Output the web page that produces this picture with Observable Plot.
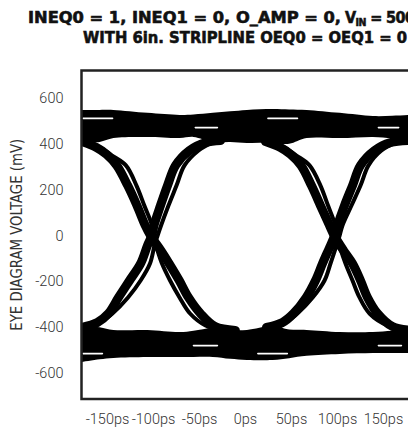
<!DOCTYPE html>
<html><head><meta charset="utf-8">
<script src="https://cdn.jsdelivr.net/npm/d3@7"></script>
<script src="https://cdn.jsdelivr.net/npm/@observablehq/plot@0.6"></script>
<style>
html,body{margin:0;padding:0;background:#fff;overflow:hidden;}
#wrap{width:420px;overflow:hidden;}
svg{display:block;}
</style></head><body><div id="wrap"></div>
<script>
// ---- text ----
const titleLine1a = "INEQ0 = 1, INEQ1 = 0, O_AMP = 0,";
const titleLine1b = ["V", "IN", " = 500mV", "P-P"];
const titleLine2 = "WITH 6in. STRIPLINE OEQ0 = OEQ1 = 0";
const yLabel = "EYE DIAGRAM VOLTAGE (mV)";
const xTicks = [-150, -100, -50, 0, 50, 100, 150];
const yTicks = [-600, -400, -200, 0, 200, 400, 600];

// ---- eye diagram: time (ps) and voltage (mV) ----
const bandT       = [-178, -158, -143, -106, -71, -56, -35, -16, 2, 30, 48, 67, 103, 139, 160, 181];
const upperTop    = [548, 548, 548, 535, 526, 528, 535, 542, 548, 552, 550, 548, 535, 521, 522, 526];
const upperBottom = [408, 408, 425, 430, 425, 430, 408, 408, 404, 404, 400, 425, 425, 430, 425, 425];
const lowerTop    = [-390, -400, -412, -412, -421, -415, -403, -412, -412, -395, -410, -412, -421, -421, -415, -412];
const lowerBottom = [-552, -540, -534, -530, -530, -530, -530, -538, -543, -543, -535, -525, -517, -513, -513, -513];

// transition traces [ps, mV]
const fallLeftMain = [[-178,412],[-162,386],[-151,356],[-140,308],[-128,220],[-118,133],[-109,46],[-103,0],[-92,-63],[-83,-120],[-72,-194],[-62,-268],[-49,-338],[-33,-395],[-11,-412]];
const fallLeftThin = [[-158,386],[-145,351],[-130,308],[-118.5,220],[-110,133],[-101.6,46],[-100,0],[-95.7,-63],[-90.8,-120],[-82,-194],[-71.7,-268],[-60.3,-338],[-43.5,-390],[-22,-412]];
const riseLeftMain = [[-178,-399],[-161,-377],[-149,-338],[-138,-268],[-126,-194],[-114,-120],[-106.5,-41],[-102,0],[-99.5,46],[-92.4,133],[-84.8,220],[-76,308],[-61,373],[-43.5,408],[-27,417]];
const riseLeftThin = [[-157.6,-377],[-144.6,-338],[-127.7,-268],[-114,-194],[-103.8,-120],[-98.9,-41],[-95.7,0],[-91.8,46],[-83.7,133],[-75,220],[-66.3,308],[-51,373],[-36,408]];
const fallRightMain = [[21.7,412],[38,386],[49,356],[60.3,308],[71.7,220],[81.5,133],[91.3,46],[96.7,0],[106.5,-63],[116.3,-120],[125,-194],[132.6,-268],[143.5,-338],[159.8,-395],[181.5,-412]];
const fallRightThin = [[42.4,386],[55.4,351],[69.6,308],[81.5,220],[89.7,133],[97.8,46],[100,0],[103.8,-63],[108.7,-120],[116.3,-194],[123.9,-268],[134.8,-338],[154.4,-390],[178.3,-412]];
const riseRightMain = [[22.8,-399],[40.2,-377],[52.2,-338],[66,-268],[76.1,-194],[83.7,-120],[92.4,-41],[96.7,0],[100,46],[107.6,133],[116.3,220],[125,308],[140.2,373],[157.6,408],[177.2,417]];
const riseRightThin = [[43.5,-377],[56.5,-338],[73,-268],[85.9,-194],[92.4,-120],[98.9,-41],[102.2,0],[105.4,46],[115.2,133],[125,220],[133.7,308],[147.8,373],[164.1,408]];

// light gaps inside the level bands
const stripeT1 = [-176, -54, 25, 145, -176, -56, 14, 145];
const stripeT2 = [-144, -30, 57, 167, -155, -30, 46, 170];
const stripeV  = [513, 473, 513, 473, -513, -478, -513, -478];

// ---- tables ----
const upperBand = bandT.map((t, i) => ({t, lo: upperBottom[i], hi: upperTop[i]}));
const lowerBand = bandT.map((t, i) => ({t, lo: lowerBottom[i], hi: lowerTop[i]}));
const toRows = (arr, id) => arr.map(([t, v]) => ({t, v, id}));
const mainRows = [
  ...toRows(fallLeftMain, "fl"), ...toRows(riseLeftMain, "rl"),
  ...toRows(fallRightMain, "fr"), ...toRows(riseRightMain, "rr")];
const thinRows = [
  ...toRows(fallLeftThin, "fl"), ...toRows(riseLeftThin, "rl"),
  ...toRows(fallRightThin, "fr"), ...toRows(riseRightThin, "rr")];
const stripes = stripeV.map((v, i) => ({v, t1: stripeT1[i], t2: stripeT2[i]}));

// ---- title ----
const titleFont = "'DejaVu Sans Condensed', 'DejaVu Sans', sans-serif";
const tsvg = d3.create("svg").attr("width", 420).attr("height", 47)
  .style("font-family", titleFont).style("font-weight", "bold").style("font-size", "16px")
  .style("font-stretch", "condensed").attr("fill", "#111")
  .attr("stroke", "#111").attr("stroke-width", 0.55);
tsvg.append("text").attr("x", 28).attr("y", 23.3).attr("textLength", 313)
  .attr("lengthAdjust", "spacingAndGlyphs").text(titleLine1a);
const tb = tsvg.append("text").attr("x", 345).attr("y", 23.3)
  .style("white-space", "pre").style("letter-spacing", "-0.6px");
tb.append("tspan").text(titleLine1b[0]);
tb.append("tspan").attr("font-size", 10.5).attr("dy", 2.5).text(titleLine1b[1]);
tb.append("tspan").attr("dy", -2.5).text(titleLine1b[2]);
tb.append("tspan").attr("font-size", 10.5).attr("dy", 2.5).text(titleLine1b[3]);
tsvg.append("text").attr("x", 83).attr("y", 43.3).attr("textLength", 324)
  .attr("lengthAdjust", "spacingAndGlyphs").text(titleLine2);

// ---- plot ----
const plot = Plot.plot({
  width: 420, height: 384,
  marginLeft: 81, marginRight: 9, marginTop: 23, marginBottom: 32.5,
  x: {domain: [-178.26, 180.43]},
  y: {domain: [-711, 722]},
  style: {fontFamily: "Roboto, 'Liberation Sans', sans-serif", fontSize: "14.5px", color: "#333", fontWeight: 300, background: "white"},
  marks: [
    Plot.areaY(upperBand, {x: "t", y1: "lo", y2: "hi", fill: "#000", curve: "catmull-rom", clip: true}),
    Plot.areaY(lowerBand, {x: "t", y1: "lo", y2: "hi", fill: "#000", curve: "catmull-rom", clip: true}),
    Plot.line(mainRows, {x: "t", y: "v", z: "id", stroke: "#000", strokeWidth: 9, curve: "catmull-rom", clip: true}),
    Plot.line(thinRows, {x: "t", y: "v", z: "id", stroke: "#000", strokeWidth: 4, curve: "catmull-rom", clip: true}),
    Plot.ruleY(stripes, {y: "v", x1: "t1", x2: "t2", stroke: "#fff", strokeWidth: 1.6, strokeLinecap: "round", clip: true}),
    Plot.frame({stroke: "#222", strokeWidth: 2.5}),
    Plot.axisX({ticks: xTicks, tickSize: 0, tickPadding: 15, tickFormat: d => d + "ps", label: null}),
    Plot.axisY({ticks: yTicks, tickSize: 0, tickPadding: 18, tickFormat: d => String(d), label: null}),
    Plot.text([yLabel], {text: d => d, frameAnchor: "left", dx: -64.5, rotate: -90, textAnchor: "middle", lineAnchor: "middle",
      fontSize: 16, fontFamily: "'Liberation Sans Narrow', 'DejaVu Sans Condensed', sans-serif", fill: "#333"})
  ]
});
d3.select(plot).selectAll("text").filter(function () { return this.textContent === yLabel; })
  .attr("textLength", 192).attr("lengthAdjust", "spacingAndGlyphs");

const wrap = document.getElementById("wrap");
wrap.appendChild(tsvg.node());
wrap.appendChild(plot);
</script></body></html>
